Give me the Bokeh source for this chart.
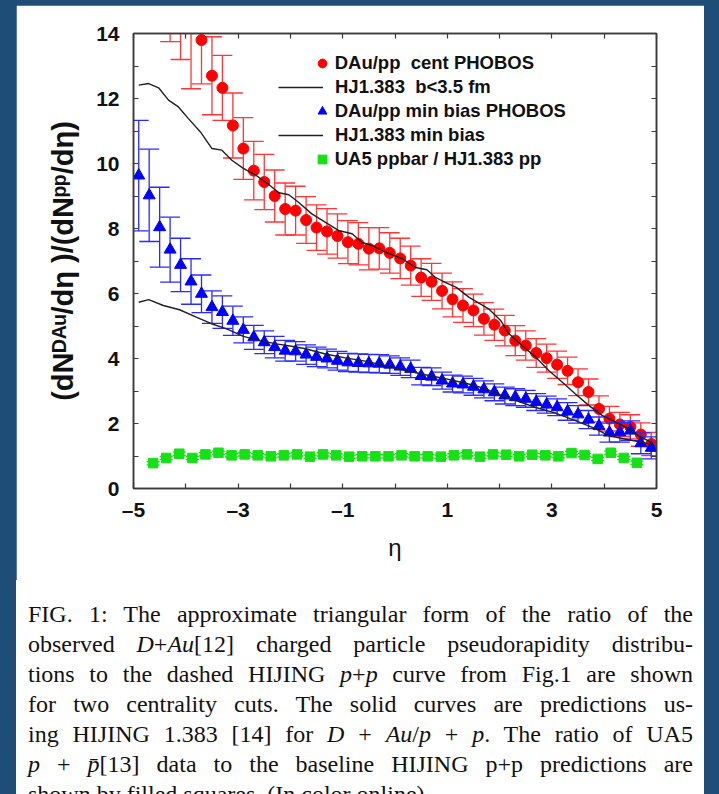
from bokeh.plotting import figure
from bokeh.models import (Range1d, FixedTicker, LinearAxis, Legend, LegendItem, Div)
from bokeh.layouts import column, row
from bokeh.embed import file_html
from bokeh.resources import INLINE

# ---------------- data ----------------
# PHOBOS d+Au / p+p, central (b<3.5 fm); first three points lie above the frame
cent_eta = [-4.3, -4.1, -3.9, -3.7, -3.5, -3.3, -3.1, -2.9, -2.7, -2.5, -2.3, -2.1,
            -1.9, -1.7, -1.5, -1.3, -1.1, -0.9, -0.7, -0.5, -0.3, -0.1, 0.1, 0.3,
            0.5, 0.7, 0.9, 1.1, 1.3, 1.5, 1.7, 1.9, 2.1, 2.3, 2.5, 2.7, 2.9, 3.1,
            3.3, 3.5, 3.7, 3.9, 4.1, 4.3, 4.5, 4.7, 4.9]
cent_val = [15.4, 14.9, 14.3, 13.8, 12.7, 12.33, 11.17, 10.46, 9.78, 9.43, 9.0, 8.6,
            8.55, 8.26, 8.03, 7.91, 7.77, 7.58, 7.53, 7.38, 7.39, 7.25, 7.08, 6.86,
            6.49, 6.36, 6.08, 5.82, 5.63, 5.48, 5.22, 5.04, 4.86, 4.55, 4.40, 4.17,
            4.01, 3.81, 3.62, 3.27, 2.97, 2.45, 2.15, 1.97, 1.90, 1.66, 1.37]
cent_err = [1.65, 1.7, 2.0, 1.35, 1.2, 1.0, 1.0, 0.95, 0.9, 0.85, 0.8, 0.8,
            0.75, 0.72, 0.7, 0.7, 0.68, 0.66, 0.65, 0.65, 0.64, 0.62, 0.62, 0.6,
            0.58, 0.57, 0.55, 0.54, 0.52, 0.5, 0.5, 0.48, 0.47, 0.46, 0.45, 0.44,
            0.43, 0.42, 0.42, 0.41, 0.4, 0.4, 0.38, 0.37, 0.37, 0.36, 0.36]

# PHOBOS d+Au / p+p, minimum bias
minb_eta = [-4.9, -4.7, -4.5, -4.3, -4.1, -3.9, -3.7, -3.5, -3.3, -3.1,
            -2.9, -2.7, -2.5, -2.3, -2.1, -1.9, -1.7, -1.5, -1.3, -1.1,
            -0.9, -0.7, -0.5, -0.3, -0.1, 0.1, 0.3, 0.5, 0.7, 0.9,
            1.1, 1.3, 1.5, 1.7, 1.9, 2.1, 2.3, 2.5, 2.7, 2.9,
            3.1, 3.3, 3.5, 3.7, 3.9, 4.1, 4.3, 4.5, 4.7, 4.9]
minb_val = [9.63, 9.02, 8.04, 7.35, 6.88, 6.37, 5.99, 5.58, 5.43, 5.16,
            4.88, 4.65, 4.50, 4.35, 4.24, 4.22, 4.12, 4.05, 4.00, 3.93,
            3.88, 3.86, 3.85, 3.84, 3.81, 3.75, 3.68, 3.46, 3.44, 3.32,
            3.23, 3.20, 3.13, 3.05, 2.96, 2.86, 2.81, 2.76, 2.66, 2.58,
            2.50, 2.37, 2.28, 2.12, 1.92, 1.72, 1.73, 1.78, 1.39, 1.25]
minb_err = [1.7, 1.42, 1.23, 1.0, 0.82, 0.7, 0.58, 0.5, 0.5, 0.45,
            0.4, 0.37, 0.35, 0.33, 0.32, 0.3, 0.3, 0.3, 0.29, 0.29,
            0.28, 0.28, 0.28, 0.28, 0.27, 0.27, 0.27, 0.27, 0.27, 0.26,
            0.26, 0.26, 0.26, 0.26, 0.26, 0.26, 0.26, 0.26, 0.26, 0.26,
            0.26, 0.27, 0.27, 0.28, 0.28, 0.29, 0.3, 0.3, 0.32, 0.34]

# UA5 p-pbar / HIJING p+p
ua5_eta = [-4.625, -4.375, -4.125, -3.875, -3.625, -3.375, -3.125, -2.875, -2.625, -2.375,
           -2.125, -1.875, -1.625, -1.375, -1.125, -0.875, -0.625, -0.375, -0.125, 0.125,
           0.375, 0.625, 0.875, 1.125, 1.375, 1.625, 1.875, 2.125, 2.375, 2.625,
           2.875, 3.125, 3.375, 3.625, 3.875, 4.125, 4.375, 4.625]
ua5_val = [0.78, 0.94, 1.07, 0.94, 1.05, 1.10, 1.02, 1.05, 1.02, 0.99,
           1.02, 1.05, 0.98, 1.05, 1.02, 0.98, 0.99, 0.99, 0.99, 1.02,
           0.99, 0.99, 0.98, 1.02, 1.05, 0.98, 1.05, 1.04, 0.99, 1.04,
           1.02, 0.99, 1.09, 1.03, 0.91, 1.10, 0.94, 0.79]
ua5_err = [0.05] * 38

# HIJING 1.383 curves
hj_cent_eta = [-4.9, -4.71, -4.52, -4.33, -4.14, -3.95, -3.72, -3.5, -3.31, -3.12, -2.9,
               -2.68, -2.45, -2.22, -2.03, -1.84, -1.59, -1.33, -1.08, -0.82, -0.63,
               -0.44, -0.18, 0.14, 0.39, 0.61, 0.77, 0.96, 1.18, 1.41, 1.79, 2.02,
               2.18, 2.43, 2.69, 2.94, 3.2, 3.45, 3.71, 3.96, 4.22, 4.41, 4.66, 4.9]
hj_cent_val = [12.41, 12.46, 12.33, 11.95, 11.74, 11.38, 10.97, 10.46, 10.41, 10.1, 9.85,
               9.66, 9.4, 9.1, 9.04, 8.8, 8.45, 8.19, 7.94, 7.84, 7.57,
               7.48, 7.27, 7.07, 6.8, 6.73, 6.5, 6.34, 6.18, 5.89, 5.53, 5.17,
               4.76, 4.4, 4.04, 3.63, 3.27, 2.91, 2.55, 2.25, 2.04, 1.89, 1.62, 1.42]
hj_minb_eta = [-4.9, -4.71, -4.43, -4.12, -3.8, -3.51, -3.22, -2.9, -2.58, -2.27, -1.95,
               -1.71, -1.33, -0.95, -0.57, -0.18, 0.2, 0.58, 0.96, 1.35, 1.54, 1.73,
               1.92, 2.3, 2.68, 3.07, 3.45, 3.83, 4.09, 4.47, 4.72, 4.9]
hj_minb_val = [5.73, 5.81, 5.63, 5.5, 5.27, 5.07, 4.91, 4.68, 4.55, 4.45, 4.37,
               4.3, 4.14, 4.02, 3.92, 3.78, 3.63, 3.5, 3.38, 3.24, 3.16, 3.07,
               2.93, 2.71, 2.5, 2.32, 2.09, 1.84, 1.62, 1.5, 1.42, 1.36]

x_major = [-5, -3, -1, 1, 3, 5]
x_minor = [-4, -2, 0, 2, 4]
x_tick_labels = {-5: "\u20135", -3: "\u20133", -1: "\u20131", 1: "1", 3: "3", 5: "5"}
y_major = [0, 2, 4, 6, 8, 10, 12, 14]
y_minor = [1, 3, 5, 7, 9, 11, 13]

x_title = "\u03b7"
y_title = "(dN\u1d30\u1d2c\u1d58/d\u03b7 )/(dN\u1d56\u1d56/d\u03b7)"

legend_labels = ["DAu/pp  cent PHOBOS", "HJ1.383  b<3.5 fm", "DAu/pp min bias PHOBOS",
                 "HJ1.383 min bias", "UA5 ppbar / HJ1.383 pp"]

caption_lines = [
    "FIG. 1: The approximate triangular form of the ratio of the",
    "observed <i>D</i>+<i>Au</i>[12] charged particle pseudorapidity distribu-",
    "tions to the dashed HIJING <i>p</i>+<i>p</i> curve from Fig.1 are shown",
    "for two centrality cuts. The solid curves are predictions us-",
    "ing HIJING 1.383 [14] for <i>D</i> + <i>Au</i>/<i>p</i> + <i>p</i>. The ratio of UA5",
    "<i>p</i> + <i>p\u0304</i>[13] data to the baseline HIJING p+p predictions are",
    "shown by filled squares. (In color online).",
]

# ---------------- styles ----------------
RED, RED_BAR = "#ff0000", "#ff3535"
BLUE, BLUE_BAR = "#0000ff", "#2a2aff"
GREEN = "#16e016"
FRAME = "#3a3a3a"
BORDER_BLUE = "#1e4d78"
SANS = "Liberation Sans"

PAGE_W, PAGE_H = 719, 794
EDGE_L, EDGE_R, EDGE_T = 16, 15, 5
CARD_W = PAGE_W - EDGE_L - EDGE_R          # 688
FIG_H = 575
CAP_H = PAGE_H - EDGE_T - FIG_H            # 214

p = figure(width=CARD_W, height=FIG_H, x_range=Range1d(-5, 5), y_range=Range1d(0, 14),
           output_backend="svg", toolbar_location=None,
           min_border_left=117, min_border_right=48, min_border_top=28, min_border_bottom=92,
           background_fill_color="white", border_fill_color="white")
p.grid.visible = False
p.outline_line_color = FRAME
p.outline_line_width = 1.5


def style_axis(ax, ticks, minor, show_labels, standoff=10):
    ax.ticker = FixedTicker(ticks=ticks, minor_ticks=minor)
    ax.axis_line_color = FRAME
    ax.axis_line_width = 1.5
    ax.major_tick_line_color = FRAME
    ax.minor_tick_line_color = FRAME
    ax.major_tick_line_width = 1.2
    ax.minor_tick_line_width = 1.2
    ax.major_tick_in = 5
    ax.major_tick_out = 0
    ax.minor_tick_in = 5
    ax.minor_tick_out = 0
    ax.major_label_standoff = standoff
    if show_labels:
        ax.major_label_text_font = SANS
        ax.major_label_text_font_style = "bold"
        ax.major_label_text_font_size = "21px"
        ax.major_label_text_color = "#111111"
    else:
        ax.major_label_text_font_size = "0px"
        ax.major_label_text_alpha = 0


xa, ya = p.xaxis[0], p.yaxis[0]
style_axis(xa, x_major, x_minor, True, standoff=9)
xa.major_label_overrides = x_tick_labels
xa.axis_label = x_title
xa.axis_label_text_font = SANS
xa.axis_label_text_font_style = "normal"
xa.axis_label_text_font_size = "24px"
xa.axis_label_text_color = "#111111"
xa.axis_label_standoff = 10

style_axis(ya, y_major, y_minor, True, standoff=14)
ya.axis_label = y_title
ya.axis_label_text_font = SANS
ya.axis_label_text_font_style = "bold"
ya.axis_label_text_font_size = "29px"
ya.axis_label_text_color = "#111111"
ya.axis_label_standoff = 14

top_ax = LinearAxis()
style_axis(top_ax, x_major, x_minor, False, standoff=0)
p.add_layout(top_ax, "above")
right_ax = LinearAxis()
style_axis(right_ax, y_major, y_minor, False, standoff=0)
p.add_layout(right_ax, "right")

CAP = 0.19


def errorbars(xs, ys, es, color, half_cap):
    lo = [y - e for y, e in zip(ys, es)]
    hi = [y + e for y, e in zip(ys, es)]
    x0 = [x - half_cap for x in xs]
    x1 = [x + half_cap for x in xs]
    p.segment(x0=xs, y0=lo, x1=xs, y1=hi, line_color=color, line_width=1.3)
    p.segment(x0=x0, y0=lo, x1=x1, y1=lo, line_color=color, line_width=1.3)
    p.segment(x0=x0, y0=hi, x1=x1, y1=hi, line_color=color, line_width=1.3)


errorbars(cent_eta, cent_val, cent_err, RED_BAR, CAP)
r_cent = p.scatter(cent_eta, cent_val, marker="circle", size=11,
                   fill_color=RED, line_color=RED)

errorbars(minb_eta, minb_val, minb_err, BLUE_BAR, CAP)
r_minb = p.scatter(minb_eta, minb_val, marker="triangle", size=12,
                   fill_color=BLUE, line_color=BLUE)

r_hj_c = p.line(hj_cent_eta, hj_cent_val, line_color="#202020", line_width=1.4)
r_hj_m = p.line(hj_minb_eta, hj_minb_val, line_color="#202020", line_width=1.4)

errorbars(ua5_eta, ua5_val, ua5_err, GREEN, 0.125)
r_ua5 = p.scatter(ua5_eta, ua5_val, marker="square", size=9.5,
                  fill_color=GREEN, line_color=GREEN)

# ---------------- legends (markers rows 1,3,5 ; lines rows 2,4) ----------------
FRAME_LEFT_ABS, FRAME_BOTTOM_ABS = 133, 488


def make_legend(items, loc, gw, standoff):
    return Legend(items=items, location=loc, orientation="vertical",
                  glyph_width=gw, glyph_height=24, label_height=24, spacing=24,
                  label_standoff=standoff, padding=0, margin=0,
                  border_line_color=None, background_fill_alpha=0,
                  label_text_font=SANS, label_text_font_style="bold",
                  label_text_font_size="18.5px", label_text_color="#111111")


leg_a = make_legend([LegendItem(label=legend_labels[0], renderers=[r_cent]),
                     LegendItem(label=legend_labels[2], renderers=[r_minb]),
                     LegendItem(label=legend_labels[4], renderers=[r_ua5])],
                    (310.7 - FRAME_LEFT_ABS, FRAME_BOTTOM_ABS - 170.7), 22, 2)
leg_b = make_legend([LegendItem(label=legend_labels[1], renderers=[r_hj_c]),
                     LegendItem(label=legend_labels[3], renderers=[r_hj_m])],
                    (278 - FRAME_LEFT_ABS, FRAME_BOTTOM_ABS - 146.7), 45, 12)
p.add_layout(leg_a)
p.add_layout(leg_b)

# ---------------- caption ----------------
rows = []
for i, ln in enumerate(caption_lines):
    last = "left" if i == len(caption_lines) - 1 else "justify"
    rows.append('<div style="text-align:justify;text-align-last:%s;white-space:nowrap;'
                'width:665px">%s</div>' % (last, ln))
caption_html = (
    '<div style="width:%dpx;height:%dpx;background:white;box-sizing:border-box;'
    'padding:19px 11px 0 12px;font-family:\'Liberation Serif\';font-size:24px;'
    'line-height:30px;color:#111;overflow:hidden;margin:0">%s</div>'
) % (CARD_W, CAP_H, "".join(rows))
caption = Div(text=caption_html, width=CARD_W, height=CAP_H, margin=0,
              styles={"background-color": "white"})


def blue_block(w, h):
    return Div(text="", width=w, height=h, margin=0,
               styles={"background-color": BORDER_BLUE})


top_band = row(blue_block(EDGE_L, EDGE_T + FIG_H),
               column(blue_block(CARD_W, EDGE_T), p, spacing=0),
               blue_block(EDGE_R, EDGE_T + FIG_H), spacing=0)
bottom_band = row(blue_block(EDGE_L, CAP_H), caption, blue_block(EDGE_R, CAP_H), spacing=0)
lay = column(top_band, bottom_band, spacing=0, styles={"background-color": BORDER_BLUE})

open("out.html", "w").write(file_html(lay, INLINE))
